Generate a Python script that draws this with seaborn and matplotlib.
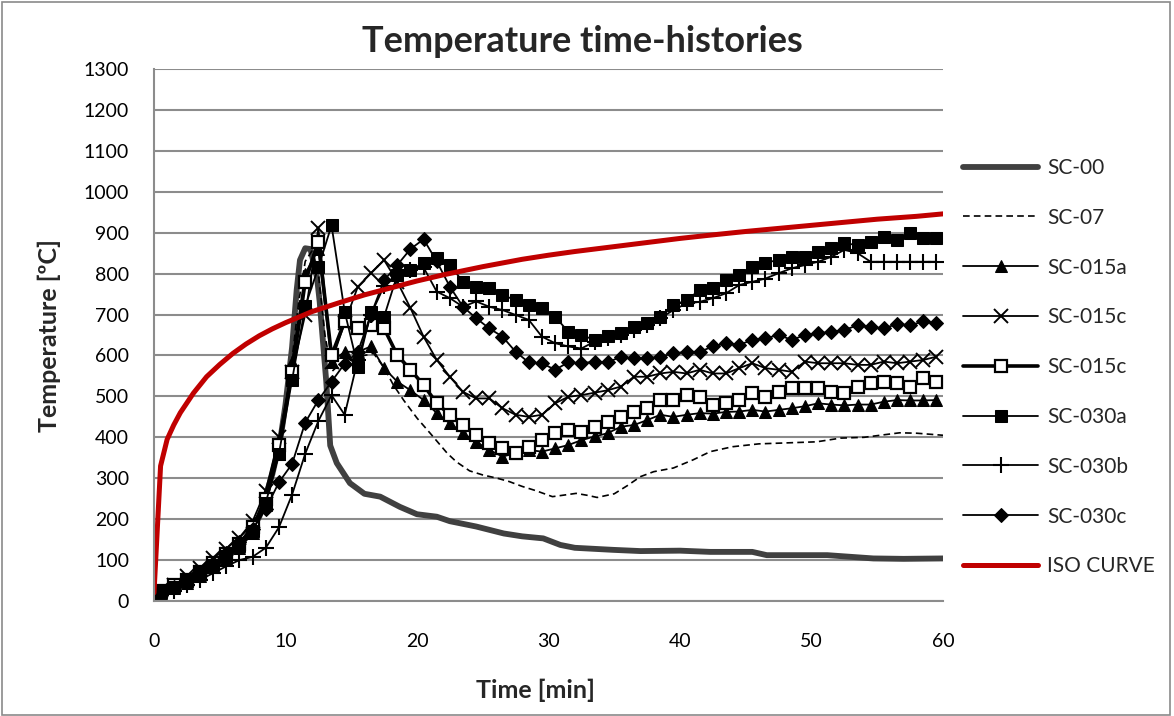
import matplotlib
matplotlib.use("Agg")
import matplotlib.pyplot as plt
from matplotlib.patches import Rectangle
import seaborn as sns
import pandas as pd

# ---------------- data ----------------
TICKS_X = [0, 10, 20, 30, 40, 50, 60]
TICKS_Y = [0, 100, 200, 300, 400, 500, 600, 700, 800, 900, 1000, 1100, 1200, 1300]

# common sampling times of the marker series [min]
t_mark = [0, 0.5, 1.5, 2.5, 3.5, 4.5, 5.5, 6.5, 7.5, 8.5, 9.5, 10.5, 11.5, 12.5, 13.5,
          14.5, 15.5, 16.5, 17.5, 18.5, 19.5, 20.5, 21.5, 22.5, 23.5, 24.5, 25.5, 26.5,
          27.5, 28.5, 29.5, 30.5, 31.5, 32.5, 33.5, 34.5, 35.5, 36.5, 37.5, 38.5, 39.5,
          40.5, 41.5, 42.5, 43.5, 44.5, 45.5, 46.5, 47.5, 48.5, 49.5, 50.5, 51.5, 52.5,
          53.5, 54.5, 55.5, 56.5, 57.5, 58.5, 59.5]

sc015a = [15, 20, 32, 45, 62, 82, 105, 130, 165, 235, 360, 585, 800, 860, 585,
          609, 609, 622, 569, 536, 515, 491, 459, 434, 410, 389, 369, 353,
          361, 369, 365, 373, 381, 393, 402, 410, 426, 430, 442, 455, 450,
          455, 459, 458, 462, 463, 467, 463, 467, 471, 476, 483, 480, 478,
          480, 480, 487, 491, 490, 490, 491]

sc015c_x = [20, 28, 40, 60, 80, 105, 128, 155, 195, 270, 400, 560, 700, 911, 585,
            680, 768, 801, 833, 780, 716, 646, 589, 548, 511, 495, 495, 471,
            455, 450, 455, 483, 499, 503, 509, 515, 524, 548, 548, 556, 560,
            556, 565, 556, 556, 569, 581, 569, 565, 560, 585, 581, 581, 581,
            577, 577, 585, 581, 585, 589, 597]

sc015c_sq = [18, 25, 38, 52, 70, 92, 115, 140, 180, 250, 380, 560, 780, 878, 600,
             683, 666, 674, 666, 601, 565, 528, 483, 455, 430, 406, 385, 373,
             361, 377, 393, 410, 418, 414, 426, 438, 450, 463, 471, 491, 491,
             503, 499, 479, 483, 491, 508, 499, 511, 520, 520, 520, 511, 508,
             524, 532, 536, 532, 524, 544, 536]

sc030a = [15, 22, 35, 50, 68, 88, 110, 135, 170, 240, 360, 540, 720, 815, 918,
          707, 573, 707, 695, 797, 810, 825, 837, 821, 780, 768, 764, 748,
          735, 723, 715, 695, 658, 650, 638, 648, 654, 670, 680, 695, 723,
          735, 760, 764, 784, 797, 817, 827, 833, 841, 841, 854, 862, 874,
          870, 878, 890, 882, 899, 886, 886]

sc030b = [10, 15, 25, 38, 52, 68, 85, 100, 108, 130, 180, 260, 360, 440, 503,
          455, 590, 700, 770, 800, 809, 815, 756, 740, 719, 732, 719, 711,
          699, 687, 646, 630, 622, 617, 634, 642, 650, 662, 674, 691, 711,
          727, 731, 740, 752, 772, 780, 788, 801, 813, 821, 829, 841, 858,
          850, 829, 829, 829, 829, 829, 829]

sc030c = [12, 20, 35, 50, 70, 92, 118, 145, 175, 225, 290, 335, 436, 491, 536,
          580, 609, 700, 784, 821, 860, 884, 830, 768, 719, 691, 666, 646,
          609, 583, 581, 565, 583, 581, 585, 583, 597, 593, 593, 597, 605,
          609, 609, 622, 630, 626, 638, 642, 650, 638, 650, 654, 658, 662,
          674, 670, 666, 677, 674, 683, 679]

t_sc00 = [0, 1, 2, 3, 4, 5, 6, 7, 8, 9, 9.6, 10, 10.5, 10.85, 11.1, 11.5, 11.9, 12.4,
          12.6, 13.1, 13.4, 13.9, 14.9, 16, 17.2, 18.7, 20, 21.5, 22.5, 24.5, 26.6,
          28, 29.6, 30.9, 32, 34.9, 37, 40, 42.3, 45.5, 46.6, 51.2, 54.7, 57, 60]
sc00 = [5, 28, 42, 58, 78, 100, 125, 155, 205, 310, 393, 480, 620, 760, 833, 862, 860,
        790, 731, 536, 380, 337, 288, 262, 255, 230, 212, 206, 195, 182, 165,
        158, 153, 137, 130, 125, 122, 123, 120, 120, 112, 112, 104, 103, 104]

t_sc07 = [0, 1, 2, 3, 4, 5, 6, 7, 8, 9, 10, 10.5, 11, 11.5, 12, 12.5, 13, 13.5, 14, 15,
          16, 16.7, 17.5, 18.2, 19, 20, 21, 22.3, 23, 24, 25, 26.1, 27, 28, 29, 30.3,
          31, 32.1, 33, 33.7, 35, 36, 37, 38, 39.5, 41, 42.3, 44, 46, 47.8, 50.4,
          52.2, 54, 56.7, 58, 60]
sc07 = [15, 28, 42, 58, 76, 98, 122, 152, 198, 300, 470, 590, 730, 830, 855, 800, 650,
        560, 575, 585, 600, 605, 570, 528, 490, 447, 410, 361, 340, 318, 308, 300,
        292, 280, 270, 255, 258, 263, 258, 253, 262, 282, 304, 316, 325, 345, 365,
        377, 384, 386, 389, 398, 400, 411, 410, 405]

t_iso = [0, 0.5, 1, 1.5, 2, 3, 4, 5, 6, 7, 8, 9, 10, 12, 14, 16, 18, 20, 22, 25, 28,
         30, 32, 35, 38, 40, 42, 45, 48, 50, 52, 55, 58, 60]
iso = [20, 330, 395, 430, 460, 508, 548, 578, 605, 628, 648, 665, 680, 707, 728, 748,
       765, 782, 797, 817, 835, 845, 854, 866, 878, 886, 893, 903, 912, 918, 924,
       933, 940, 946]

LABELS = ["SC-00", "SC-07", "SC-015a", "SC-015c", "SC-015c",
          "SC-030a", "SC-030b", "SC-030c", "ISO CURVE"]

# ---------------- styling ----------------
sns.set_style("white")
plt.rcParams["font.family"] = ["Lato", "DejaVu Sans"]

fig = plt.figure(figsize=(11.74, 7.16), dpi=100)
ax = fig.add_axes([154 / 1174, 1 - 601 / 716, (943 - 154) / 1174, (601 - 69) / 716])

GRID = "#8c8c8c"
series = [
    (t_sc00, sc00, dict(color="#404040", lw=4.2)),
    (t_sc07, sc07, dict(color="black", lw=1.2, ls=(0, (4, 2.5)))),
    (t_mark, sc015a, dict(color="black", lw=1.3, marker="^", ms=9, mfc="black", mec="black")),
    (t_mark, sc015c_x, dict(color="black", lw=1.3, marker="x", ms=10, mew=1.4, mec="black")),
    (t_mark, sc015c_sq, dict(color="black", lw=2.6, marker="s", ms=8.5, mfc="white", mec="black", mew=1.6)),
    (t_mark, sc030a, dict(color="black", lw=1.3, marker="s", ms=8.5, mfc="black", mec="black")),
    (t_mark, sc030b, dict(color="black", lw=1.3, marker="+", ms=12, mew=1.5, mec="black")),
    (t_mark, sc030c, dict(color="black", lw=1.3, marker="D", ms=7.5, mfc="black", mec="black")),
    (t_iso, iso, dict(color="#C00000", lw=3.6)),
]

handles = []
for (tx, ty, kw), lab in zip(series, LABELS):
    df = pd.DataFrame({"t": tx, "T": ty})
    sns.lineplot(data=df, x="t", y="T", ax=ax, estimator=None, sort=False,
                 label=lab, **kw)
    handles.append(ax.get_lines()[-1])

ax.set_xlim(0, 60)
ax.set_ylim(0, 1300)
ax.set_xticks(TICKS_X)
ax.set_yticks(TICKS_Y)
ax.yaxis.grid(True, color=GRID, lw=1.5)
ax.xaxis.grid(False)
ax.set_axisbelow(True)
for s in ["top", "right"]:
    ax.spines[s].set_visible(False)
for s in ["left", "bottom"]:
    ax.spines[s].set_color(GRID)
    ax.spines[s].set_linewidth(1.5)
ax.tick_params(axis="both", direction="out", length=6, width=1.2, color=GRID,
               labelsize=14, labelcolor="black")
ax.tick_params(axis="y", pad=12)
ax.tick_params(axis="x", pad=17)

ax.set_xlabel("Time [min]", fontsize=18, fontweight="bold")
ax.xaxis.set_label_coords((536 - 154) / (943 - 154), -(690 - 601) / (601 - 69))
ax.xaxis.label.set_va("center")
ax.set_ylabel("Temperature [ºC]", fontsize=18, fontweight="bold", labelpad=16)

fig.text(582 / 1174, 1 - 42 / 716, "Temperature time-histories", ha="center",
         va="center", fontsize=26, fontweight="bold")

if ax.get_legend():
    ax.get_legend().remove()
fig.legend(handles, LABELS, loc="upper left", bbox_to_anchor=(963 / 1174, 1 - 158 / 716),
           frameon=False, fontsize=15, handlelength=3.6, handletextpad=0.45,
           labelspacing=1.43, borderpad=0, borderaxespad=0, numpoints=1)

fig.patches.append(Rectangle((0.002, 0.002), 0.995, 0.995, transform=fig.transFigure,
                             fill=False, ec="#8a8a8a", lw=1.2))

fig.savefig("out.png", dpi=100)
